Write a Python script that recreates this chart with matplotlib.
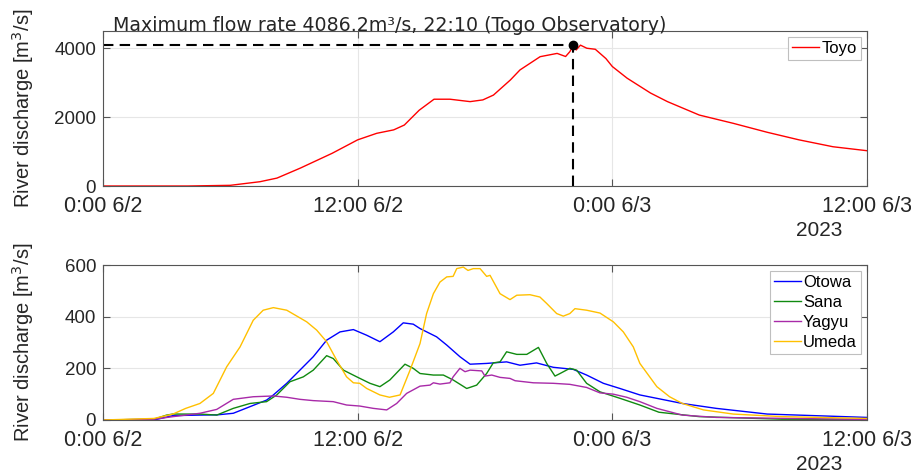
import numpy as np
import matplotlib
matplotlib.use("Agg")
import matplotlib.pyplot as plt

# hours since 0:00 6/2/2023
toyo_h = [0, 4, 6, 7.4, 8.2, 9.3, 10.8, 12, 12.9, 13.7, 14.2, 14.9, 15.6, 16.35, 17.3, 17.9,
          18.4, 19.2, 19.65, 20.6, 21.4, 21.8, 22.0, 22.17, 22.3, 22.5, 22.8, 23.2, 23.7,
          24.0, 24.7, 25.8, 26.6, 28.1, 29.7, 31.3, 32.8, 34.4, 36]
toyo_v = [0, 0, 20, 125, 230, 520, 950, 1340, 1530, 1630, 1770, 2200, 2520, 2520, 2450, 2500,
          2640, 3080, 3370, 3755, 3850, 3760, 3900, 4086.2, 3950, 4090, 4000, 3970, 3700,
          3470, 3130, 2700, 2450, 2060, 1820, 1560, 1340, 1140, 1025]

otowa_h = [0, 2.4, 3.3, 4.57, 5.4, 6.14, 7.71, 8.03, 8.66, 9.28, 9.91, 10.54, 11.17, 11.8,
           12.43, 13.05, 13.68, 14.15, 14.62, 14.94, 15.72, 16.2, 16.82, 17.3, 18.08, 19.02,
           19.65, 20.43, 21.22, 22.16, 22.79, 23.58, 24.36, 25.3, 27.3, 28.9, 31.3, 36]
otowa_v = [0, 0, 17, 19, 20, 26, 77, 97, 142, 193, 245, 309, 341, 350,
           328, 303, 341, 376, 371, 354, 322, 290, 245, 216, 219, 225,
           212, 221, 204, 196, 174, 142, 122, 97, 64, 45, 23, 10]

sana_h = [0, 2.4, 3.0, 3.3, 4.57, 5.36, 6.14, 6.93, 7.71, 8.19, 8.81, 9.44, 9.91, 10.54, 10.85,
          11.33, 11.96, 12.58, 13.05, 13.52, 14.23, 14.62, 14.94, 15.57, 16.04, 16.5, 17.14,
          17.61, 18.08, 18.39, 18.71, 19.02, 19.5, 19.97, 20.52, 20.91, 21.3, 21.54, 22.0,
          22.32, 22.79, 23.42, 24.36, 25.3, 26.2, 28.1, 32, 36]
sana_v = [0, 3, 19, 23, 23, 19, 45, 64, 71, 97, 148, 167, 193, 249, 238,
          193, 167, 142, 129, 155, 216, 200, 180, 174, 174, 155, 122,
          135, 180, 221, 225, 264, 254, 254, 281, 219, 170, 180, 200,
          193, 142, 109, 84, 58, 30, 13, 3, 2]

yagyu_h = [0, 2.4, 3.3, 3.9, 4.57, 5.36, 6.14, 7.08, 8.03, 8.66, 9.28, 9.91, 10.85, 11.48,
           12.1, 12.74, 13.37, 13.84, 14.31, 14.94, 15.41, 15.57, 15.88, 16.35, 16.5, 16.82,
           17.06, 17.3, 17.85, 18.0, 18.32, 18.71, 19.18, 19.42, 20.28, 21.22, 22.0, 22.79,
           23.42, 24.05, 24.68, 25.3, 26.1, 27.3, 28.9, 36]
yagyu_v = [0, 3, 13, 19, 26, 41, 80, 90, 93, 88, 80, 75, 71, 58,
           54, 45, 39, 64, 103, 131, 135, 144, 139, 144, 167, 200,
           187, 193, 190, 170, 174, 165, 161, 152, 144, 142, 138, 126,
           105, 100, 88, 71, 45, 19, 10, 2]

umeda_h = [0, 2.4, 3.3, 3.9, 4.57, 5.2, 5.83, 6.46, 7.08, 7.55, 8.03, 8.66, 9.6, 10.07, 10.54,
           11.01, 11.48, 11.8, 12.1, 12.43, 13.05, 13.5, 14.0, 14.47, 14.94, 15.25, 15.57,
           15.88, 16.2, 16.5, 16.67, 16.98, 17.2, 17.45, 17.77, 18.08, 18.24, 18.71, 19.18,
           19.5, 20.12, 20.59, 20.91, 21.38, 21.69, 22.0, 22.24, 22.79, 23.42, 24.05, 24.52,
           24.99, 25.3, 26.1, 26.7, 27.3, 28.3, 29.7, 32, 36]
umeda_v = [0, 6, 23, 45, 64, 103, 206, 283, 386, 425, 435, 425, 380, 348, 303,
           232, 167, 144, 142, 122, 97, 88, 97, 193, 296, 412, 489,
           534, 554, 556, 586, 592, 579, 586, 586, 556, 560, 489, 466,
           483, 485, 476, 451, 412, 402, 412, 431, 425, 414, 380, 341,
           283, 219, 129, 90, 64, 39, 23, 13, 6]

peak_h = 22 + 10 / 60
peak_v = 4086.2

xticks = [0, 12, 24, 36]
xticklabels = ["0:00 6/2", "12:00 6/2", "0:00 6/3", "12:00 6/3"]

plt.rcParams['font.family'] = ['Liberation Sans', 'DejaVu Sans']
txt_color = '#262626'

fig = plt.figure(figsize=(9.12, 4.75), dpi=100)
ax1 = fig.add_axes([0.1129, 0.6084, 0.8377, 0.3263])
ax2 = fig.add_axes([0.1129, 0.1158, 0.8377, 0.3263])


def style(ax, ymax, yticks):
    ax.set_xlim(0, 36)
    ax.set_ylim(0, ymax)
    ax.set_xticks(xticks)
    ax.set_xticklabels(xticklabels)
    ax.set_yticks(yticks)
    ax.grid(True, color='#e6e6e6', linewidth=0.8)
    ax.set_axisbelow(True)
    ax.tick_params(direction='in', length=5, width=0.8, top=True, right=True,
                   colors='#555555', labelcolor=txt_color)
    ax.tick_params(axis='x', labelsize=15.5, pad=7)
    ax.tick_params(axis='y', labelsize=13.5, pad=5)
    for s in ax.spines.values():
        s.set_color('#555555')
        s.set_linewidth(0.8)
    ax.set_ylabel('River discharge [m$^3$/s]', fontsize=14.5, color=txt_color)
    ax.yaxis.set_label_coords(-0.088, 0.5)
    ax.text(0.938, -0.285, '2023', transform=ax.transAxes, ha='center', va='center',
            fontsize=15, color=txt_color)


# top: Toyo
ax1.plot(toyo_h, toyo_v, color='#ff0000', linewidth=1.0, label='Toyo')
ax1.plot([0, peak_h], [peak_v, peak_v], color='black', linestyle=(0, (5, 3)), linewidth=1.5)
ax1.plot([peak_h, peak_h], [0, peak_v], color='black', linestyle=(0, (5, 3)), linewidth=1.5)
ax1.plot(peak_h, peak_v, 'o', color='black', markersize=6)
style(ax1, 4500, [0, 2000, 4000])
ax1.text(0.47, 4500, 'Maximum flow rate 4086.2m³/s, 22:10 (Togo Observatory)',
         ha='left', va='baseline', fontsize=13.7, color=txt_color, family='DejaVu Sans')
leg1 = ax1.legend(loc='upper right', fontsize=12, handlelength=1.6, handletextpad=0.15,
                  borderpad=0.25, borderaxespad=0.35, fancybox=False, framealpha=1)
leg1.get_frame().set_edgecolor('#bfbfbf')
leg1.get_frame().set_linewidth(0.8)

# bottom: tributaries
ax2.plot(otowa_h, otowa_v, color='#0000ff', linewidth=1.0, label='Otowa')
ax2.plot(sana_h, sana_v, color='#108a10', linewidth=1.0, label='Sana')
ax2.plot(yagyu_h, yagyu_v, color='#a82aa8', linewidth=1.0, label='Yagyu')
ax2.plot(umeda_h, umeda_v, color='#ffc000', linewidth=1.0, label='Umeda')
style(ax2, 600, [0, 200, 400, 600])
leg2 = ax2.legend(loc='upper right', fontsize=12, handlelength=1.6, handletextpad=0.15,
                  borderpad=0.25, labelspacing=0.3, borderaxespad=0.35, fancybox=False,
                  framealpha=1)
leg2.get_frame().set_edgecolor('#bfbfbf')
leg2.get_frame().set_linewidth(0.8)

fig.savefig('out.png', dpi=100)
